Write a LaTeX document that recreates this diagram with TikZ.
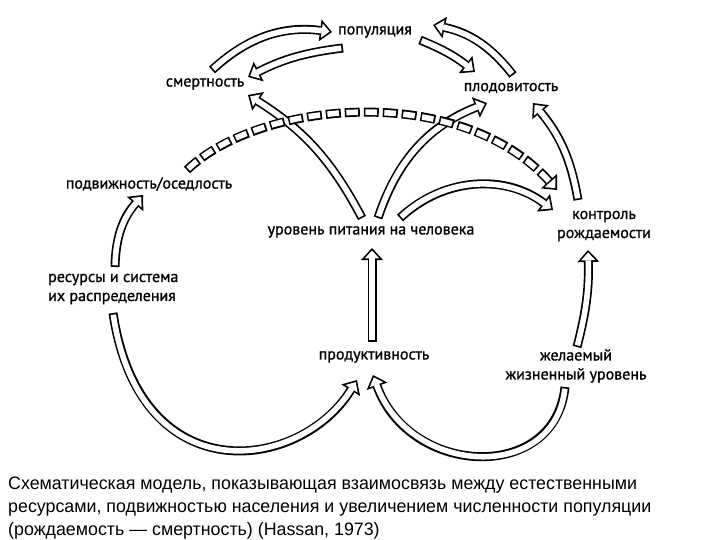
\documentclass[tikz,border=0pt]{standalone}
\usepackage{fontspec}
\setmainfont{PT Sans}[FakeBold=1]
\newfontfamily\capfont[FakeStretch=0.99]{Liberation Sans}
\usetikzlibrary{arrows.meta}

\begin{document}
\begin{tikzpicture}[
    x=1pt, y=1pt,
    lbl/.style={inner sep=1pt, font=\fontsize{16}{19}\selectfont, align=center},
    hollow/.style={draw=white, line width=5.6pt, shorten <=1.7pt, shorten >=2.5pt,
        -{Triangle[length=7.8pt, width=14.3pt, line width=0pt]},
        preaction={draw=black, line width=9pt, shorten <=0pt, shorten >=0pt,
            -{Triangle[length=12pt, width=22pt, line width=0pt]}}},
    hollowdash/.style={draw=white, line width=5.6pt, shorten <=1.7pt, shorten >=2.5pt,
        dash pattern=on 11.6pt off 7.4pt,
        -{Triangle[length=7.8pt, width=14.3pt, line width=0pt]},
        preaction={draw=black, line width=9pt, shorten <=0pt, shorten >=0pt,
            dash pattern=on 15pt off 4pt,
            -{Triangle[length=12pt, width=22pt, line width=0pt]}}}
]
    \fill[white] (0,0) rectangle (720,-540);

    % labels
    \node[lbl] (pop) at (375,-32) {популяция};
    \node[lbl] (death) at (205,-84) {смертность};
    \node[lbl] (fert) at (511,-88) {плодовитость};
    \node[lbl] (mob) at (149,-184) {подвижность/оседлость};
    \node[lbl, anchor=west, align=left] (res) at (47,-289) {ресурсы и система\\их распределения};
    \node[lbl] (food) at (371,-232) {уровень питания на человека};
    \node[lbl] (ctrl) at (604,-226) {контроль\\рождаемости};
    \node[lbl] (prod) at (374,-357) {продуктивность};
    \node[lbl] (want) at (576,-366) {желаемый\\жизненный уровень};

    % caption
    \node[anchor=north west, align=left, inner sep=0pt, font=\capfont\fontsize{18}{23}\selectfont] (cap) at (8,-477)
        {Схематическая модель, показывающая взаимосвязь между естественными\\
         ресурсами, подвижностью населения и увеличением численности популяции\\
         (рождаемость — смертность) (Hassan, 1973)};

    % top cycle
    \draw[hollow] ([shift={(7,14)}]death.center) to[bend left=25] ([shift={(-43,0)}]pop.center);
    \draw[hollow] ([shift={(-32,-16)}]pop.center) to[bend right=10] ([shift={(43,7)}]death.center);
    \draw[hollow] ([shift={(45,-8)}]pop.center) to[bend left=8] ([shift={(-36,16)}]fert.center);
    \draw[hollow] ([shift={(2,13)}]fert.center) to[bend right=20] ([shift={(58,7)}]pop.center);

    % from food level
    \draw[hollow] ([shift={(-9,14)}]food.center) to[bend right=15] ([shift={(43,-11)}]death.center);
    \draw[hollow] ([shift={(7,14)}]food.center) to[bend left=25] ([shift={(-24,-15)}]fert.center);
    \draw[hollow] ([shift={(29,14)}]food.center) to[bend left=40] ([shift={(-51,16)}]ctrl.center);
    \draw[hollow] ([shift={(-26,26)}]ctrl.center) to[bend right=15] ([shift={(22,-15)}]fert.center);
    \draw[hollowdash] ([shift={(38,14)}]mob.center) .. controls +(73,70) and +(-97,108) .. ([shift={(-47,36)}]ctrl.center);

    % lower part
    \draw[hollow] ([shift={(68,22)}]res.west) to[bend left=20] ([shift={(-6,-11)}]mob.center);
    \draw[hollow] ([shift={(66,-24)}]res.west) .. controls +(27,-180) and +(-57,-92) .. ([shift={(-17,-23)}]prod.center);
    \draw[hollow] ([shift={(-11,-21)}]want.center) .. controls +(-10,-96) and +(37,-102) .. ([shift={(-1,-18)}]prod.center);
    \draw[hollow] ([shift={(1,19)}]want.center) to[bend right=8] ([shift={(-16,-24)}]ctrl.center);
    \draw[hollow] ([shift={(-2,15)}]prod.center) -- ([shift={(1,-16)}]food.center);
\end{tikzpicture}
\end{document}
